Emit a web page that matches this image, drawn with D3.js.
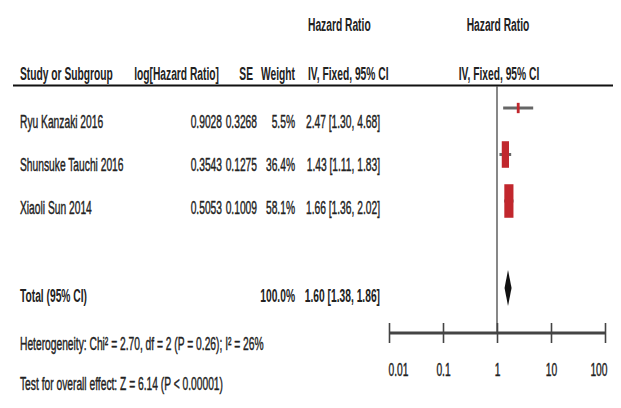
<!DOCTYPE html>
<html><head><meta charset="utf-8">
<script src="https://cdn.jsdelivr.net/npm/d3@7"></script>
<style>
html,body{margin:0;padding:0;background:#fff;}
svg text{font-family:"Liberation Sans",Arial,sans-serif;fill:#222;}
</style></head>
<body><svg id="c" width="621" height="408"></svg>
<script>
const studies = ["Ryu Kanzaki 2016","Shunsuke Tauchi 2016","Xiaoli Sun 2014"];
const logHR = ["0.9028","0.3543","0.5053"];
const seVals = ["0.3268","0.1275","0.1009"];
const weights = [5.5,36.4,58.1];
const hr = [2.47,1.43,1.66];
const lower = [1.30,1.11,1.36];
const upper = [4.68,1.83,2.02];
const total = {label:"Total (95% CI)", weight:100.0, hr:1.60, lo:1.38, hi:1.86};
const tickValues = [0.01,0.1,1,10,100];
const tickLabels = ["0.01","0.1","1","10","100"];
const footnotes = ["Heterogeneity: Chi\u00B2 = 2.70, df = 2 (P = 0.26); I\u00B2 = 26%","Test for overall effect: Z = 6.14 (P < 0.00001)"];

const svg = d3.select("#c");
const SX = 0.54, FS = 19;
function txt(x,y,s,anchor,bold){
  return svg.append("text").attr("transform",`translate(${x},${y}) scale(${SX},1)`)
    .attr("text-anchor",anchor||"start").attr("font-size",FS)
    .attr("font-weight",bold?"bold":"normal")
    .attr("stroke",bold?"none":"#222").attr("stroke-width",bold?0:0.45)
    .text(s);
}
const fmt2 = d3.format(".2f");
const x = d3.scaleLog().domain([0.01,100]).range([389,605]);
const rowY = d3.scalePoint().domain(studies).range([128,214]);
const markY = d3.scalePoint().domain(studies).range([108,201]);
const axisY = 333;

// headers
txt(308,31,"Hazard Ratio","start",true);
txt(498,31,"Hazard Ratio","middle",true);
txt(20,80,"Study or Subgroup","start",true);
txt(219,80,"log[Hazard Ratio]","end",true);
txt(253,80,"SE","end",true);
txt(295,80,"Weight","end",true);
txt(308,80,"IV, Fixed, 95% CI","start",true);
txt(499,80,"IV, Fixed, 95% CI","middle",true);
svg.append("line").attr("x1",13).attr("x2",613).attr("y1",85.5).attr("y2",85.5)
  .attr("stroke","#111").attr("stroke-width",2.2);

// vertical line at 1
svg.append("line").attr("x1",x(1)).attr("x2",x(1)).attr("y1",86).attr("y2",axisY)
  .attr("stroke","#555").attr("stroke-width",1.4);

// study rows
studies.forEach((s,i)=>{
  const y = rowY(s);
  txt(20,y,s);
  txt(222,y,logHR[i],"end");
  txt(257,y,seVals[i],"end");
  txt(295,y,weights[i].toFixed(1)+"%","end");
  txt(380,y,`${fmt2(hr[i])} [${fmt2(lower[i])}, ${fmt2(upper[i])}]`,"end");
});

// markers
const g = svg.append("g");
g.selectAll("line.ci").data(studies).join("line").attr("class","ci")
  .attr("x1",(d,i)=>x(lower[i])).attr("x2",(d,i)=>x(upper[i]))
  .attr("y1",d=>markY(d)).attr("y2",d=>markY(d))
  .attr("stroke","#666").attr("stroke-width",3);
g.selectAll("rect").data(studies).join("rect")
  .attr("x",(d,i)=>x(hr[i]) - 0.6*Math.sqrt(weights[i]))
  .attr("width",(d,i)=>1.2*Math.sqrt(weights[i]))
  .attr("y",(d,i)=>markY(d) - 2.2*Math.sqrt(weights[i]))
  .attr("height",(d,i)=>4.4*Math.sqrt(weights[i]))
  .attr("fill","#c1272d");

// total
const ty = 302, dy = 288;
txt(20,ty,total.label,"start",true);
txt(295,ty,total.weight.toFixed(1)+"%","end",true);
txt(380,ty,`${fmt2(total.hr)} [${fmt2(total.lo)}, ${fmt2(total.hi)}]`,"end",true);
svg.append("path").attr("d",`M${x(total.lo)},${dy} L${x(total.hr)},${dy-18} L${x(total.hi)},${dy} L${x(total.hr)},${dy+18} Z`)
  .attr("fill","#111");

// footnotes
txt(20,350,footnotes[0]);
txt(20,390,footnotes[1]);

// axis
const ax = svg.append("g").attr("transform",`translate(0,${axisY})`)
  .call(d3.axisBottom(x).tickValues(tickValues).tickFormat((d,i)=>tickLabels[i]).tickSize(10).tickPadding(20));
ax.select(".domain").attr("d",`M${x(0.01)},0H${x(100)}`).attr("stroke","#444").attr("stroke-width",3);
ax.selectAll(".tick line").attr("y1",-10).attr("y2",10).attr("stroke","#444").attr("stroke-width",1.6);
ax.selectAll(".tick text").attr("font-size",FS).attr("fill","#222")
  .attr("stroke","#222").attr("stroke-width",0.45)
  .attr("font-family",'"Liberation Sans",Arial,sans-serif')
  .attr("text-anchor",(d,i)=> i===0 ? "start" : (i===tickValues.length-1 ? "end" : "middle"))
  .attr("transform",(d,i)=>`translate(${i===0?-1:(i===tickValues.length-1?2:0)},0) scale(${SX},1)`);
</script></body></html>
